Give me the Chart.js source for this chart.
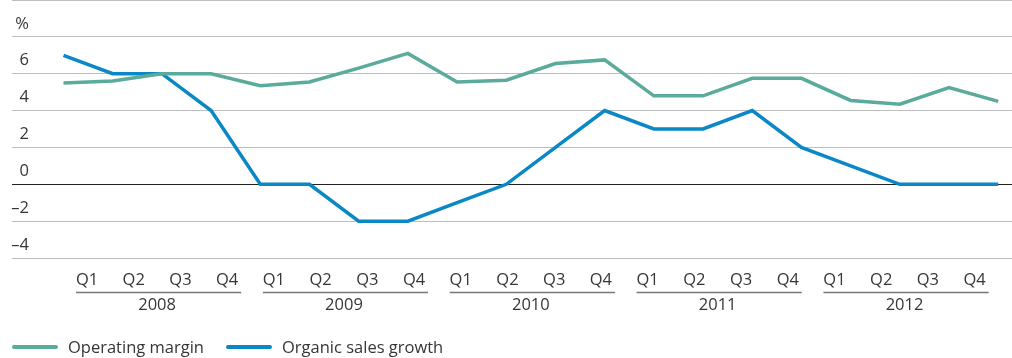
<!DOCTYPE html>
<html lang="en">
<head>
    <meta charset="UTF-8">
    <title>Operating margin and organic sales growth</title>
    <script src="https://cdn.jsdelivr.net/npm/chart.js"></script>
    <style>
        html, body { margin: 0; padding: 0; background: #fff; }
        .chart-box { position: relative; width: 1012px; height: 358px; }
    </style>
</head>
<body>
    <div class="chart-box">
        <canvas id="marginChart"></canvas>
    </div>

    <script>
        // Chart data
        const quarterLabels = ['Q1','Q2','Q3','Q4','Q1','Q2','Q3','Q4','Q1','Q2','Q3','Q4','Q1','Q2','Q3','Q4','Q1','Q2','Q3','Q4'];
        const years = ['2008', '2009', '2010', '2011', '2012'];
        const operatingMargin = [5.5, 5.6, 6.0, 6.0, 5.35, 5.55, 6.3, 7.1, 5.55, 5.65, 6.55, 6.75, 4.8, 4.8, 5.75, 5.75, 4.55, 4.35, 5.25, 4.5];
        const organicGrowth = [7, 6, 6, 4, 0, 0, -2, -2, -1, 0, 2, 4, 3, 3, 4, 2, 1, 0, 0, 0];
        const yTicks = [-4, -2, 0, 2, 4, 6, 8, 10];
        const yTickLabels = ['–4', '–2', '0', '2', '4', '6', '%', ''];
        const seriesNames = ['Operating margin', 'Organic sales growth'];

        const tealColor = '#5aab9c';
        const blueColor = '#0a88c6';
        const textColor = '#363636';
        const fontSpec = '16.5px "Open Sans"';

        const toPoints = arr => arr.map((v, i) => ({ x: i, y: v }));

        // labels, year groups and legend drawn on top
        const axisTextPlugin = {
            id: 'axisText',
            afterDraw(chart) {
                const ctx = chart.ctx;
                const yScale = chart.scales.y;
                const labelScale = chart.scales.xLabels;
                ctx.save();
                ctx.font = fontSpec;
                ctx.fillStyle = textColor;

                // y tick labels sit above their grid line
                ctx.textAlign = 'right';
                ctx.textBaseline = 'middle';
                yTicks.forEach((v, i) => {
                    ctx.fillText(yTickLabels[i], 29, yScale.getPixelForValue(v) - 13);
                });

                // quarter labels
                ctx.textAlign = 'center';
                quarterLabels.forEach((q, i) => {
                    ctx.fillText(q, labelScale.getPixelForValue(i), 280);
                });

                // year underlines and labels
                years.forEach((yr, g) => {
                    const first = labelScale.getPixelForValue(g * 4);
                    const last = labelScale.getPixelForValue(g * 4 + 3);
                    ctx.strokeStyle = '#777';
                    ctx.lineWidth = 1.5;
                    ctx.beginPath();
                    ctx.moveTo(first - 11, 292.5);
                    ctx.lineTo(last + 14, 292.5);
                    ctx.stroke();
                    ctx.fillText(yr, (first + last) / 2, 305);
                });

                // legend
                const legendItems = [
                    { name: seriesNames[0], color: tealColor, x: 14 },
                    { name: seriesNames[1], color: blueColor, x: 228 }
                ];
                ctx.textAlign = 'left';
                legendItems.forEach(item => {
                    ctx.strokeStyle = item.color;
                    ctx.lineWidth = 4;
                    ctx.lineCap = 'round';
                    ctx.beginPath();
                    ctx.moveTo(item.x, 347);
                    ctx.lineTo(item.x + 42, 347);
                    ctx.stroke();
                    ctx.fillText(item.name, item.x + 54, 348);
                });
                ctx.restore();
            }
        };

        new Chart(document.getElementById('marginChart'), {
            type: 'line',
            data: {
                datasets: [
                    {
                        label: seriesNames[0],
                        data: toPoints(operatingMargin),
                        borderColor: tealColor,
                        borderWidth: 3.5,
                        pointRadius: 0,
                        tension: 0,
                        fill: false
                    },
                    {
                        label: seriesNames[1],
                        data: toPoints(organicGrowth),
                        borderColor: blueColor,
                        borderWidth: 3.5,
                        pointRadius: 0,
                        tension: 0,
                        fill: false
                    }
                ]
            },
            plugins: [axisTextPlugin],
            options: {
                responsive: true,
                maintainAspectRatio: false,
                animation: false,
                layout: { padding: { left: 12, top: 0, right: 0, bottom: 100 } },
                plugins: {
                    legend: { display: false },
                    tooltip: { enabled: false }
                },
                scales: {
                    x: {
                        type: 'linear',
                        min: -1.047,
                        max: 19.28,
                        display: false
                    },
                    xLabels: {
                        type: 'linear',
                        axis: 'x',
                        min: -1.606,
                        max: 19.8,
                        display: false
                    },
                    y: {
                        min: -4,
                        max: 10,
                        afterBuildTicks: axis => {
                            axis.ticks = yTicks.map(v => ({ value: v }));
                        },
                        border: { display: false },
                        ticks: { display: false },
                        grid: {
                            drawTicks: false,
                            lineWidth: 1,
                            color: c => c.tick && c.tick.value === 0 ? '#222' : '#bdbdbd'
                        }
                    }
                }
            }
        });
    </script>
</body>
</html>
